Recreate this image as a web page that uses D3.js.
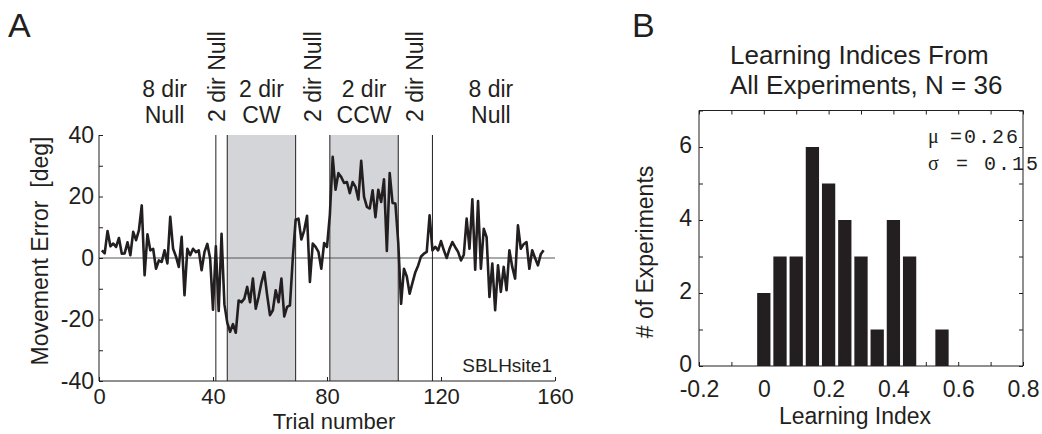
<!DOCTYPE html>
<html>
<head>
<meta charset="utf-8">
<script src="https://cdn.jsdelivr.net/npm/d3@7"></script>
<style>
  html, body { margin: 0; padding: 0; background: #fff; }
  svg { display: block; }
  text { font-family: "Liberation Sans", Arial, Helvetica, sans-serif; fill: #231f20; }
  .mono { font-family: "Liberation Mono", "Courier New", monospace; }
</style>
</head>
<body>
<svg id="fig" width="1042" height="434"></svg>
<script>
// ---- Panel A: movement error per trial ----
const movementError = [
  2.5, 1.5, 8.8, 3.8, 4.7, 3.6, 6.5, 1.4, 1.5, 5.1,
  0.9, 8.5, 5.8, 9, 17.1, -5.6, 7.7, 2.5, 3, -3.5,
  -0.8, -1.3, 2.5, -1.8, 13.4, 3, 0.5, -2.9, 6.9, -12.1,
  3, 0.9, 3, 1.9, 2.5, -4, 1.9, 4.6, -0.2, -16.8,
  3.8, -17.2, 7.9, -15, -21, -24, -21.5, -24.3, -13.8, -14.4,
  -13.2, -9.4, -14.4, -6.7, -16.5, -12.7, -8, -4.6, -12.1, -18.6,
  -17, -10.5, -14.4, -6.7, -19, -15.9, -15.4, 0, 12.5, 12.8,
  6, 9, 13.7, -7.8, 4.7, 3.6, 2, -3.5, 4.9, 3.6,
  14, 32.9, 22.2, 27.6, 26.3, 24.4, 24.7, 21.1, 24.7, 23.1,
  19, 31.6, 19.9, 16.6, 16.1, 22, 13.3, 22.2, 18.2, 25.6,
  2.3, 27.6, 17.9, 17.7, 5, -14.9, -3.5, -6, -11.6, -8,
  -4.6, -2.4, 0.5, 1.4, 2, 13.9, 2.5, 3.6, 2.5, 5.5,
  2.5, 0, 3, 5.2, 3.5, 2, -0.8, 1, 12.8, 3,
  19.1, -3.8, 18.5, -3.5, 9.5, 6.8, -12.7, -1.8, -17, -2.4,
  -11, -2.9, -10.5, 2.5, -2.9, -6.7, 10.6, 3, 4.5, 5.2,
  -3.5, 2.5, 0, -2.4, 1.2, 2.5
];
const phaseLines = [41, 45, 69, 81, 105, 117];
const fieldBlocks = [[45, 69], [81, 105]];
const phaseLabels = [
  { trial: 23, lines: ["8 dir", "Null"] },
  { trial: 57, lines: ["2 dir", "CW"] },
  { trial: 93, lines: ["2 dir", "CCW"] },
  { trial: 137.5, lines: ["8 dir", "Null"] }
];
const nullLabels = [41.3, 75, 111];
const nullLabelText = "2 dir Null";
const errTicks = [-40, -30, -20, -10, 0, 10, 20, 30, 40];
const trialTicks = [0, 40, 80, 120, 160];

// ---- Panel B: histogram of learning indices ----
const binCenters = [0, 0.05, 0.1, 0.15, 0.2, 0.25, 0.3, 0.35, 0.4, 0.45, 0.5, 0.55];
const binCounts  = [2, 3, 3, 6, 5, 4, 3, 1, 4, 3, 0, 1];
const liTicks = [-0.2, -0.1, 0, 0.1, 0.2, 0.3, 0.4, 0.5, 0.6, 0.7, 0.8];
const liLabelled = [-0.2, 0, 0.2, 0.4, 0.6, 0.8];
const countTicks = [0, 1, 2, 3, 4, 5, 6, 7];
const countLabelled = [0, 2, 4, 6];

const ink = "#231f20";
const svg = d3.select("#fig");

function styleAxis(g) {
  g.selectAll(".domain").attr("stroke", ink).attr("stroke-width", 1);
  g.selectAll(".tick line").attr("stroke", ink).attr("stroke-width", 1);
  g.selectAll(".tick text").attr("fill", ink).style("font-family", "Liberation Sans, Arial, sans-serif");
}

// ================= Panel A =================
const xA = d3.scaleLinear().domain([0, 160]).range([99, 555]);
const yA = d3.scaleLinear().domain([-40, 40]).range([381, 135]);
const gA = svg.append("g");

gA.selectAll("rect.block").data(fieldBlocks).join("rect")
  .attr("class", "block")
  .attr("x", d => xA(d[0])).attr("width", d => xA(d[1]) - xA(d[0]))
  .attr("y", yA(40)).attr("height", yA(-40) - yA(40))
  .attr("fill", "#d4d5d8");

gA.append("line")
  .attr("x1", xA(0)).attr("x2", xA(160))
  .attr("y1", yA(0)).attr("y2", yA(0))
  .attr("stroke", "#555658").attr("stroke-width", 1.2);

gA.selectAll("line.phase").data(phaseLines).join("line")
  .attr("class", "phase")
  .attr("x1", d => xA(d)).attr("x2", d => xA(d))
  .attr("y1", yA(40)).attr("y2", yA(-40))
  .attr("stroke", ink).attr("stroke-width", 1);

const lineGen = d3.line().x((d, i) => xA(i + 1)).y(d => yA(d));
gA.append("path").datum(movementError)
  .attr("d", lineGen)
  .attr("fill", "none").attr("stroke", ink)
  .attr("stroke-width", 2.6).attr("stroke-linejoin", "round");

const axYA = gA.append("g").attr("transform", `translate(${xA(0)},0)`)
  .call(d3.axisLeft(yA).tickValues(errTicks).tickSize(-4).tickPadding(5)
    .tickFormat(d => d % 20 === 0 ? d : ""));
styleAxis(axYA);
axYA.selectAll(".tick text").attr("font-size", 23);
axYA.select(".domain").attr("d", `M0,${yA(40)}V${yA(-40)}`);

const axXA = gA.append("g").attr("transform", `translate(0,${yA(-40)})`)
  .call(d3.axisBottom(xA).tickValues(trialTicks).tickSize(-4).tickPadding(7.5));
styleAxis(axXA);
axXA.selectAll(".tick text").attr("font-size", 22);
axXA.select(".domain").attr("d", `M${xA(0)},0H${xA(160)}`);

gA.append("text").attr("x", 334).attr("y", 429.2)
  .attr("text-anchor", "middle").attr("font-size", 22).text("Trial number");
gA.append("text")
  .attr("transform", "translate(48,251) rotate(-90)")
  .attr("text-anchor", "middle").attr("font-size", 23)
  .attr("xml:space", "preserve").text("Movement Error  [deg]");

phaseLabels.forEach(p => {
  const t = gA.append("text").attr("text-anchor", "middle").attr("font-size", 23);
  p.lines.forEach((s, i) => {
    t.append("tspan").attr("x", xA(p.trial)).attr("y", 97 + i * 26).text(s);
  });
});
gA.selectAll("text.nulllab").data(nullLabels).join("text")
  .attr("class", "nulllab")
  .attr("transform", d => `translate(${xA(d) + 8},122) rotate(-90)`)
  .attr("text-anchor", "start").attr("font-size", 23)
  .text(nullLabelText);

gA.append("text").attr("x", 552).attr("y", 372)
  .attr("text-anchor", "end").attr("font-size", 19).text("SBLHsite1");

svg.append("text").attr("x", 8).attr("y", 37).attr("font-size", 34).text("A");

// ================= Panel B =================
const xB = d3.scaleLinear().domain([-0.2, 0.8]).range([699, 1023]);
const yB = d3.scaleLinear().domain([0, 7]).range([366, 110.5]);
const gB = svg.append("g");
const barW = 0.041;

gB.selectAll("rect.bar").data(binCenters.map((c, i) => ({ c, n: binCounts[i] })).filter(d => d.n > 0))
  .join("rect").attr("class", "bar")
  .attr("x", d => xB(d.c - barW / 2)).attr("width", d => xB(barW) - xB(0))
  .attr("y", d => yB(d.n)).attr("height", d => yB(0) - yB(d.n))
  .attr("fill", ink);

const fmtLI = v => {
  const r = Math.round(v * 10) / 10;
  return liLabelled.some(l => Math.abs(l - r) < 1e-9) ? String(r) : "";
};

const axXB = gB.append("g").attr("transform", `translate(0,${yB(0)})`)
  .call(d3.axisBottom(xB).tickValues(liTicks).tickSize(-4).tickPadding(15).tickFormat(fmtLI));
styleAxis(axXB);
axXB.selectAll(".tick text").attr("font-size", 23);
axXB.select(".domain").attr("d", `M${xB(-0.2)},0H${xB(0.8)}`);

const axXBt = gB.append("g").attr("transform", `translate(0,${yB(7)})`)
  .call(d3.axisTop(xB).tickValues(liTicks).tickSize(-4).tickFormat(""));
styleAxis(axXBt);
axXBt.select(".domain").attr("d", `M${xB(-0.2)},0H${xB(0.8)}`);

const axYB = gB.append("g").attr("transform", `translate(${xB(-0.2)},0)`)
  .call(d3.axisLeft(yB).tickValues(countTicks).tickSize(-4).tickPadding(7)
    .tickFormat(d => countLabelled.includes(d) ? d : ""));
styleAxis(axYB);
axYB.selectAll(".tick text").attr("font-size", 23).attr("dy", "0.26em");
axYB.select(".domain").attr("d", `M0,${yB(7)}V${yB(0)}`);

const axYBr = gB.append("g").attr("transform", `translate(${xB(0.8)},0)`)
  .call(d3.axisRight(yB).tickValues(countTicks).tickSize(-4).tickFormat(""));
styleAxis(axYBr);
axYBr.select(".domain").attr("d", `M0,${yB(7)}V${yB(0)}`);

gB.append("text").attr("x", 855).attr("y", 424)
  .attr("text-anchor", "middle").attr("font-size", 23).text("Learning Index");
gB.append("text")
  .attr("transform", "translate(653,252) rotate(-90)")
  .attr("text-anchor", "middle").attr("font-size", 23).text("# of Experiments");

gB.append("text").attr("x", 730).attr("y", 64).attr("font-size", 26).text("Learning Indices From");
gB.append("text").attr("x", 730).attr("y", 94).attr("font-size", 26).text("All Experiments, N = 36");

const stats = gB.append("g").attr("class", "mono");
stats.append("text").attr("x", 928).attr("y", 143).attr("font-size", 20)
  .style("font-family", "Liberation Serif, serif").text("μ");
stats.append("text").attr("x", 950).attr("y", 143).attr("font-size", 20)
  .attr("class", "mono").attr("letter-spacing", 2).text("=0.26");
stats.append("text").attr("x", 928).attr("y", 170).attr("font-size", 20)
  .style("font-family", "Liberation Serif, serif").text("σ");
stats.append("text").attr("x", 942).attr("y", 170).attr("font-size", 20)
  .attr("class", "mono").attr("letter-spacing", 2).attr("xml:space", "preserve").text(" = 0.15");

svg.append("text").attr("x", 632).attr("y", 37).attr("font-size", 34).text("B");
</script>
</body>
</html>
